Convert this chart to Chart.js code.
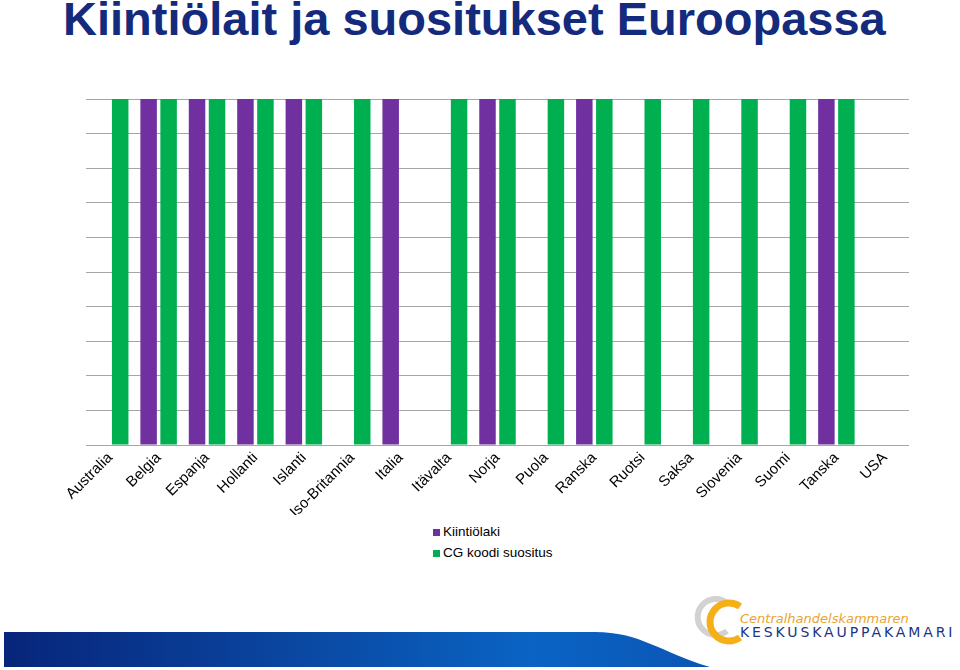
<!DOCTYPE html>
<html>
<head>
<meta charset="utf-8">
<script src="https://cdn.jsdelivr.net/npm/chart.js@4"></script>
<style>
  html, body { margin: 0; padding: 0; background: #fff; }
  #page { position: relative; width: 960px; height: 670px; overflow: hidden; font-family: Arial, "Liberation Sans", sans-serif; }
  #title { position: absolute; left: 63px; top: -5px; font-size: 47px; line-height: 1; font-weight: bold; color: #142a7c; white-space: nowrap; }
  #chartBox { position: absolute; left: 0; top: 0; width: 960px; height: 520px; }
  #legend { position: absolute; left: 433px; top: 521px; font-size: 13.5px; color: #000; }
  #legend div { height: 21px; line-height: 21px; white-space: nowrap; }
  #legend span { display: inline-block; width: 7px; height: 7px; margin-right: 3px; vertical-align: 0px; }
  #decor { position: absolute; left: 0; top: 580px; }
  .logo1 { position: absolute; left: 740px; top: 612px; font-family: "DejaVu Sans", sans-serif; font-size: 13px; line-height: 1; font-style: italic; color: #e9a431; white-space: nowrap; }
  .logo2 { position: absolute; left: 740px; top: 625px; font-family: "DejaVu Sans", sans-serif; font-size: 14px; line-height: 1; color: #1b3584; letter-spacing: 2.9px; white-space: nowrap; }
</style>
</head>
<body>
<div id="page">
  <div id="title">Kiintiölait ja suositukset Euroopassa</div>
  <div id="chartBox"><canvas id="barChart" width="960" height="520"></canvas></div>
  <div id="legend"></div>

  <svg id="decor" width="960" height="90" viewBox="0 580 960 90">
    <defs>
      <linearGradient id="band" x1="0" x2="1" y1="0" y2="0">
        <stop offset="0" stop-color="#07257a"/>
        <stop offset="0.4" stop-color="#0a46a0"/>
        <stop offset="0.75" stop-color="#0a64c4"/>
        <stop offset="1" stop-color="#0b55b4"/>
      </linearGradient>
    </defs>
    <path d="M4 632 L595 632 C640 632 660 652 710 667 L4 667 Z" fill="url(#band)"/>
    <path d="M727 603 A18 18 0 1 0 727 631" fill="none" stroke="#d2d2d2" stroke-width="6"/>
    <path d="M740 606.5 A19 19 0 1 0 740 637.5" fill="none" stroke="#f5b019" stroke-width="7"/>
  </svg>
  <div class="logo1">Centralhandelskammaren</div>
  <div class="logo2">KESKUSKAUPPAKAMARI</div>
</div>

<script>
// Maat (kategoriat)
var countries = ['Australia', 'Belgia', 'Espanja', 'Hollanti', 'Islanti', 'Iso-Britannia', 'Italia',
    'Itävalta', 'Norja', 'Puola', 'Ranska', 'Ruotsi', 'Saksa', 'Slovenia', 'Suomi', 'Tanska', 'USA'];

// 1 = käytössä, 0 = ei
var kiintiolaki = [0, 1, 1, 1, 1, 0, 1, 0, 1, 0, 1, 0, 0, 0, 0, 1, 0];
var cgKoodi     = [1, 1, 1, 1, 1, 1, 0, 1, 1, 1, 1, 1, 1, 1, 1, 1, 0];

var seriesNames = ['Kiintiölaki', 'CG koodi suositus'];
var seriesColors = ['#7030a0', '#00b050'];

var chart = new Chart(document.getElementById('barChart'), {
    type: 'bar',
    data: {
        labels: countries,
        datasets: [{
            label: seriesNames[0],
            data: kiintiolaki,
            backgroundColor: seriesColors[0],
            borderWidth: 0
        }, {
            label: seriesNames[1],
            data: cgKoodi,
            backgroundColor: seriesColors[1],
            borderWidth: 0
        }]
    },
    options: {
        responsive: false,
        animation: false,
        layout: { padding: { left: 86, right: 51, top: 99, bottom: 5 } },
        datasets: { bar: { categoryPercentage: 0.826, barPercentage: 0.825 } },
        plugins: {
            legend: { display: false },
            tooltip: { enabled: false }
        },
        scales: {
            x: {
                grid: { display: false, drawTicks: false },
                border: { display: false },
                ticks: {
                    color: '#000',
                    font: { family: 'Arial, "Liberation Sans"', size: 15 },
                    minRotation: 45,
                    maxRotation: 45,
                    autoSkip: false,
                    padding: 4
                },
                afterFit: function(scale) { scale.height = 70; }
            },
            y: {
                min: 0,
                max: 1,
                ticks: { display: false, stepSize: 0.1 },
                grid: { color: '#a6a6a6', lineWidth: 1, drawTicks: false },
                border: { display: false },
                afterFit: function(scale) { scale.width = 0; }
            }
        }
    }
});

// HTML-selite pystysuoraan
var legend = document.getElementById('legend');
chart.data.datasets.forEach(function(ds) {
    var row = document.createElement('div');
    var box = document.createElement('span');
    box.style.background = ds.backgroundColor;
    row.appendChild(box);
    row.appendChild(document.createTextNode(ds.label));
    legend.appendChild(row);
});
</script>
</body>
</html>
